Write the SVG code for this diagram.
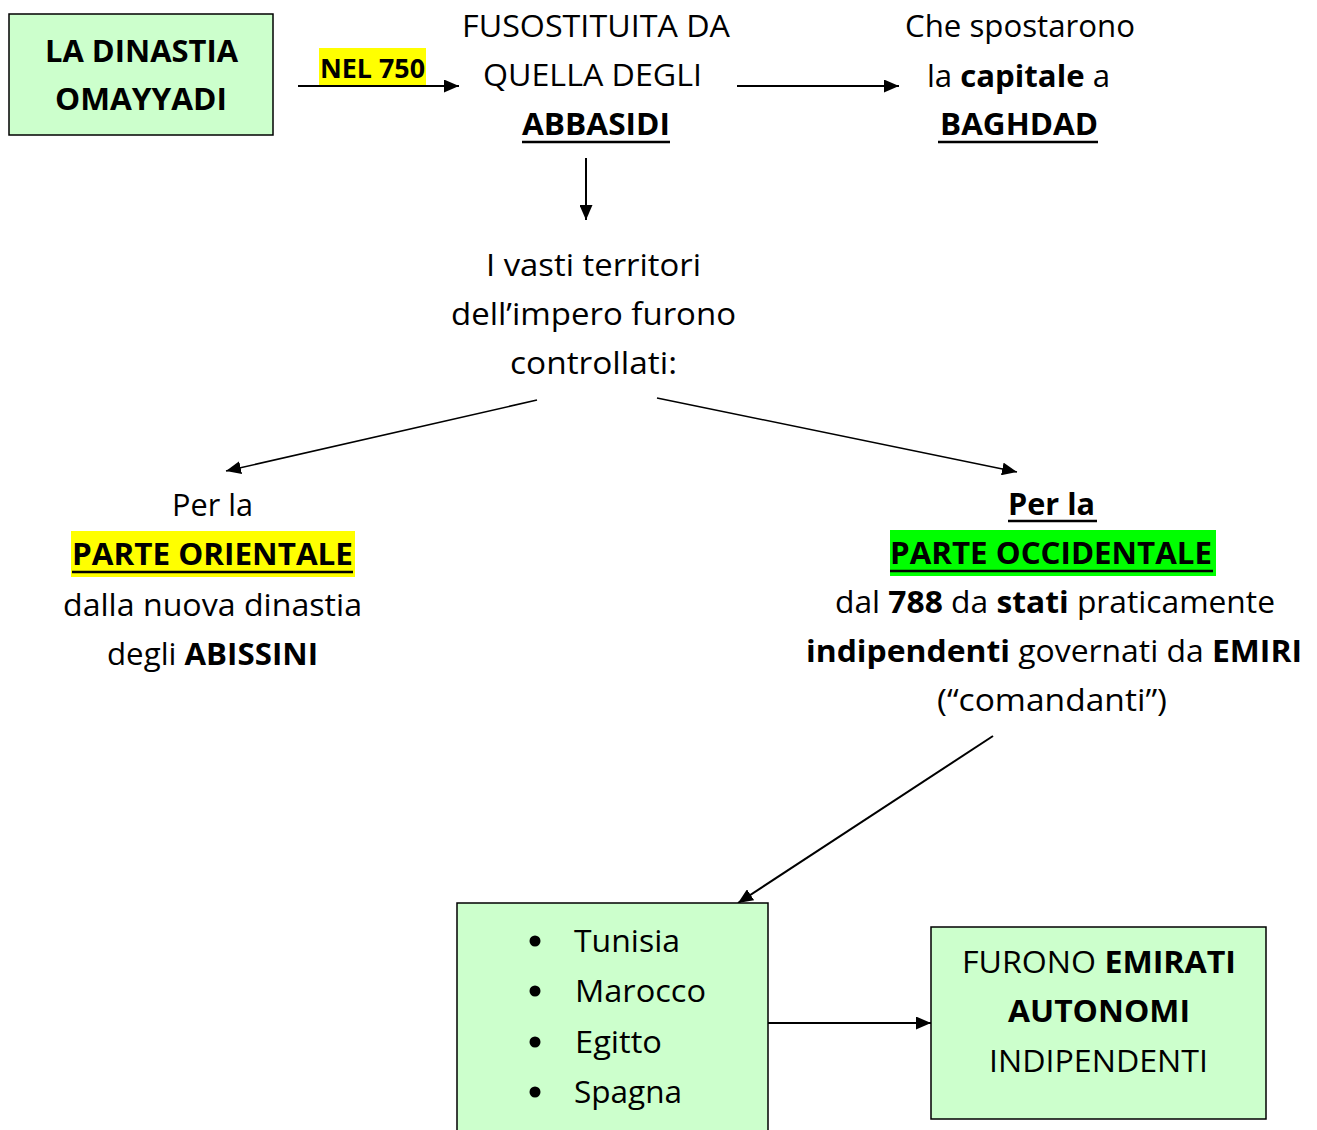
<svg xmlns="http://www.w3.org/2000/svg" width="1317" height="1130" viewBox="0 0 1317 1130">
<style>
.t{font-family:"Open Sans","Liberation Sans",sans-serif;font-size:31px;fill:#000}
.b{font-weight:bold}
.box{fill:#ccffcc;stroke:#000;stroke-width:1.5}
.c{stroke:#000;stroke-width:2;fill:none;marker-end:url(#ah)}
.c2{stroke:#000;stroke-width:1.5;fill:none;marker-end:url(#ah)}
.u{stroke:#000;stroke-width:2.5}
</style>
<defs>
<marker id="ah" markerWidth="15" markerHeight="13" refX="15" refY="6.5" orient="auto" markerUnits="userSpaceOnUse"><path d="M0,0 L15,6.5 L0,13 z" fill="#000"/></marker>
</defs>
<rect width="1317" height="1130" fill="#fff"/>

<g id="connectors">
<line class="c" x1="298" y1="86" x2="459" y2="86"/>
<line class="c" x1="737" y1="86" x2="899" y2="86"/>
<line class="c" x1="586" y1="158" x2="586" y2="220"/>
<line class="c2" x1="537" y1="400" x2="226" y2="471"/>
<line class="c2" x1="657" y1="398" x2="1017" y2="472"/>
<line class="c" x1="993" y1="736" x2="738" y2="903"/>
<line class="c" x1="768" y1="1023" x2="931" y2="1023"/>
</g>

<g id="omayyadi">
<rect class="box" x="9" y="14" width="264" height="121"/>
<text class="t b" x="45" y="62" textLength="193" lengthAdjust="spacingAndGlyphs">LA DINASTIA</text>
<text class="t b" x="55" y="110" textLength="172" lengthAdjust="spacingAndGlyphs">OMAYYADI</text>
</g>

<g id="nel750">
<rect x="319" y="48" width="107" height="37" fill="#ffff00"/>
<text class="t b" x="320" y="78" style="font-size:26px" textLength="105" lengthAdjust="spacingAndGlyphs">NEL 750</text>
</g>

<g id="abbasidi">
<text class="t" x="462" y="37" textLength="268" lengthAdjust="spacingAndGlyphs">FUSOSTITUITA DA</text>
<text class="t" x="483" y="86" textLength="219" lengthAdjust="spacingAndGlyphs">QUELLA DEGLI</text>
<text class="t b" x="522" y="135" textLength="148" lengthAdjust="spacingAndGlyphs">ABBASIDI</text>
<line class="u" x1="522" y1="142" x2="670" y2="142"/>
</g>

<g id="baghdad">
<text class="t" x="905" y="37" textLength="230" lengthAdjust="spacingAndGlyphs">Che spostarono</text>
<text class="t" x="927" y="87" textLength="183" lengthAdjust="spacingAndGlyphs">la <tspan class="b">capitale</tspan> a</text>
<text class="t b" x="940" y="135" textLength="158" lengthAdjust="spacingAndGlyphs">BAGHDAD</text>
<line class="u" x1="938" y1="142" x2="1098" y2="142"/>
</g>

<g id="territori">
<text class="t" x="486" y="276" textLength="215" lengthAdjust="spacingAndGlyphs">I vasti territori</text>
<text class="t" x="451" y="325" textLength="285" lengthAdjust="spacingAndGlyphs">dell’impero furono</text>
<text class="t" x="510" y="374" textLength="167" lengthAdjust="spacingAndGlyphs">controllati:</text>
</g>

<g id="orientale">
<text class="t" x="172" y="516" textLength="81" lengthAdjust="spacingAndGlyphs">Per la</text>
<rect x="71" y="531" width="284" height="46" fill="#ffff00"/>
<text class="t b" x="72" y="565" textLength="281" lengthAdjust="spacingAndGlyphs">PARTE ORIENTALE</text>
<line class="u" x1="72" y1="572" x2="353" y2="572"/>
<text class="t" x="63" y="616" textLength="299" lengthAdjust="spacingAndGlyphs">dalla nuova dinastia</text>
<text class="t" x="107" y="665" textLength="211" lengthAdjust="spacingAndGlyphs">degli <tspan class="b">ABISSINI</tspan></text>
</g>

<g id="occidentale">
<text class="t b" x="1008" y="515" textLength="87" lengthAdjust="spacingAndGlyphs">Per la</text>
<line class="u" x1="1008" y1="521" x2="1097" y2="521"/>
<rect x="890" y="530" width="326" height="46" fill="#00ff00"/>
<text class="t b" x="890" y="564" textLength="322" lengthAdjust="spacingAndGlyphs">PARTE OCCIDENTALE</text>
<line class="u" x1="890" y1="571" x2="1213" y2="571"/>
<text class="t" x="835" y="613" textLength="440" lengthAdjust="spacingAndGlyphs">dal <tspan class="b">788</tspan> da <tspan class="b">stati</tspan> praticamente</text>
<text class="t" x="806" y="662" textLength="496" lengthAdjust="spacingAndGlyphs"><tspan class="b">indipendenti</tspan> governati da <tspan class="b">EMIRI</tspan></text>
<text class="t" x="937" y="711" textLength="230" lengthAdjust="spacingAndGlyphs">(“comandanti”)</text>
</g>

<g id="paesi">
<rect class="box" x="457" y="903" width="311" height="240"/>
<circle cx="535" cy="941" r="5.5"/>
<circle cx="535" cy="991" r="5.5"/>
<circle cx="535" cy="1042" r="5.5"/>
<circle cx="535" cy="1092" r="5.5"/>
<text class="t" x="574" y="952" textLength="106" lengthAdjust="spacingAndGlyphs">Tunisia</text>
<text class="t" x="575" y="1002" textLength="131" lengthAdjust="spacingAndGlyphs">Marocco</text>
<text class="t" x="575" y="1053" textLength="87" lengthAdjust="spacingAndGlyphs">Egitto</text>
<text class="t" x="574" y="1103" textLength="108" lengthAdjust="spacingAndGlyphs">Spagna</text>
</g>

<g id="emirati">
<rect class="box" x="931" y="927" width="335" height="192"/>
<text class="t" x="962" y="973" textLength="274" lengthAdjust="spacingAndGlyphs">FURONO <tspan class="b">EMIRATI</tspan></text>
<text class="t b" x="1008" y="1022" textLength="182" lengthAdjust="spacingAndGlyphs">AUTONOMI</text>
<text class="t" x="989" y="1072" textLength="219" lengthAdjust="spacingAndGlyphs">INDIPENDENTI</text>
</g>
</svg>
